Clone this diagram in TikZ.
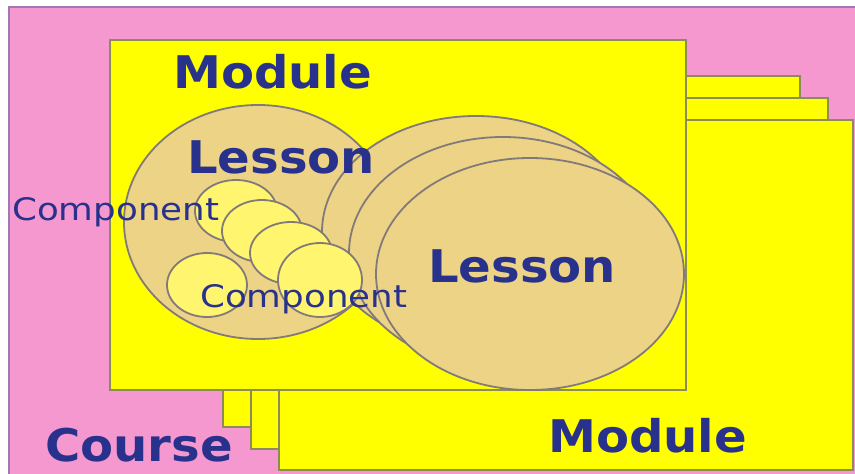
\documentclass[tikz,border=0pt]{standalone}
\usepackage{fontspec}
\usepackage{xcolor}
\usepackage{tikz}
\setmainfont{DejaVu Sans}
\newfontfamily\wideboldfont[FakeStretch=1.07]{DejaVu Sans}
\newfontfamily\widefont[FakeStretch=1.15]{DejaVu Sans}
\usetikzlibrary{positioning}
\definecolor{coursepink}{RGB}{246,152,208}
\definecolor{courseedge}{RGB}{160,120,180}
\definecolor{moduleyellow}{RGB}{255,255,0}
\definecolor{moduleedge}{RGB}{140,140,90}
\definecolor{lessontan}{RGB}{236,211,133}
\definecolor{lessonedge}{RGB}{130,122,122}
\definecolor{partyellow}{RGB}{255,245,110}
\definecolor{labelblue}{RGB}{40,50,140}
\tikzstyle{coursebox} = [draw=courseedge, fill=coursepink, line width=2pt]
\tikzstyle{modulebox} = [draw=moduleedge, fill=moduleyellow, line width=2pt]
\tikzstyle{lessonball} = [draw=lessonedge, fill=lessontan, line width=1.8pt]
\tikzstyle{partball}  = [draw=lessonedge, fill=partyellow, line width=1.8pt]
\tikzstyle{bigname}   = [font=\wideboldfont\bfseries\fontsize{45}{45}\selectfont,
                         text=labelblue, inner sep=0pt, anchor=base west]
\tikzstyle{partname}  = [font=\widefont\fontsize{31}{31}\selectfont,
                         text=labelblue, inner sep=0pt, anchor=base west]

\begin{document}
\begin{tikzpicture}[x=1pt, y=-1pt]
\useasboundingbox (0,0) rectangle (855,474);
\fill[white] (0,0) rectangle (855,474);
% Course
\draw[coursebox] (9,7) rectangle (858,478);
% Modules behind
\draw[modulebox] (223,76) rectangle (800,427);
\draw[modulebox] (251,98) rectangle (828,449);
\draw[modulebox] (279,120) rectangle (853,470);
% Front module
\draw[modulebox] (110,40) rectangle (686,390);
% Lessons
\draw[lessonball] (258,222) ellipse [x radius=134pt, y radius=117pt];
\draw[lessonball] (476,232) ellipse [x radius=154pt, y radius=116pt];
\draw[lessonball] (503,253) ellipse [x radius=154pt, y radius=116pt];
\draw[lessonball] (530,274) ellipse [x radius=154pt, y radius=116pt];
% Components
\draw[partball] (207,285) ellipse [x radius=40pt, y radius=32pt];
\draw[partball] (236,211) ellipse [x radius=41pt, y radius=31pt];
\draw[partball] (262,231) ellipse [x radius=40pt, y radius=31pt];
\draw[partball] (291,253) ellipse [x radius=41pt, y radius=31pt];
\draw[partball] (320,280) ellipse [x radius=42pt, y radius=37pt];
% Labels
\node[bigname] (coursename) at (45,461) {Course};
\node[bigname] (modulename) at (173,88) {Module};
\node[bigname] (modulenext) at (548,452) {Module};
\node[bigname] (lessonname) at (187,173) {Lesson};
\node[bigname] (lessonnext) at (428,282) {Lesson};
\node[partname] (partname) at (12,220) {Component};
\node[partname] (partnext) at (200,307) {Component};
\end{tikzpicture}
\end{document}
